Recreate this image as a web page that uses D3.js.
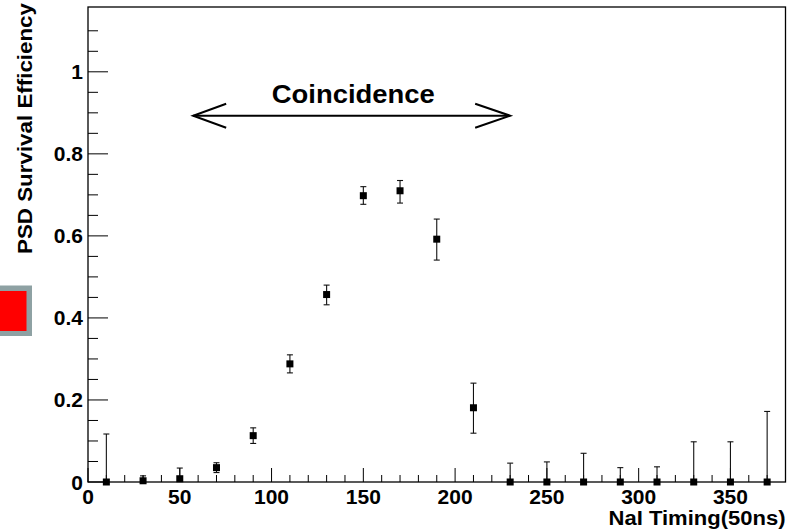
<!DOCTYPE html>
<html>
<head>
<meta charset="utf-8">
<script src="https://cdn.jsdelivr.net/npm/d3@7"></script>
<style>
  html, body { margin: 0; padding: 0; background: #fff; }
  svg { display: block; }
  text { font-family: "Liberation Sans", Arial, Helvetica, sans-serif; font-weight: bold; fill: #000; }
</style>
</head>
<body>
<svg id="chart" width="798" height="531"></svg>
<script>
// ---- data ----
const timing = [10, 30, 50, 70, 90, 110, 130, 150, 170, 190, 210, 230, 250, 270, 290, 310, 330, 350, 370];
const efficiency = [0.0, 0.003, 0.008, 0.035, 0.113, 0.288, 0.457, 0.698, 0.710, 0.592, 0.181, 0, 0, 0, 0, 0, 0, 0, 0];
const errUp = [0.117, 0.012, 0.026, 0.012, 0.019, 0.022, 0.023, 0.022, 0.025, 0.049, 0.060, 0.046, 0.049, 0.070, 0.035, 0.037, 0.098, 0.098, 0.172];
const errDown = [0.0, 0.003, 0.008, 0.012, 0.019, 0.022, 0.025, 0.021, 0.030, 0.051, 0.062, 0, 0, 0, 0, 0, 0, 0, 0];
const xTicks = [0, 50, 100, 150, 200, 250, 300, 350];
const yTicks = [0, 0.2, 0.4, 0.6, 0.8, 1];
const xDomain = [0, 380];
const yDomain = [0, 1.158];
const xTitle = "NaI Timing(50ns)";
const yTitle = "PSD Survival Efficiency";
const annotation = { text: "Coincidence", x0: 57.3, x1: 230, y: 0.893 };

// ---- layout ----
const W = 798, H = 531;
const m = { left: 88, right: 12.5, top: 7, bottom: 49 };
const svg = d3.select("#chart");

const x = d3.scaleLinear().domain(xDomain).range([m.left, W - m.right]);
const y = d3.scaleLinear().domain(yDomain).range([H - m.bottom, m.top]);

// red box at left
svg.append("rect").attr("x", -10).attr("y", 285.5).attr("width", 42).attr("height", 50.5).attr("fill", "#8ea1a3");
svg.append("rect").attr("x", -10).attr("y", 291).attr("width", 36.5).attr("height", 40).attr("fill", "#ff0000");

// frame
svg.append("rect")
  .attr("x", x(xDomain[0])).attr("y", y(yDomain[1]))
  .attr("width", x(xDomain[1]) - x(xDomain[0]))
  .attr("height", y(yDomain[0]) - y(yDomain[1]))
  .attr("fill", "none").attr("stroke", "#000").attr("stroke-width", 1.3);

// x axis ticks (inside, upward)
const xMinor = d3.range(0, 381, 10);
const gx = svg.append("g");
gx.selectAll("line").data(xMinor).join("line")
  .attr("x1", d => x(d)).attr("x2", d => x(d))
  .attr("y1", y(0)).attr("y2", d => y(0) - (d % 50 === 0 ? 14 : 7))
  .attr("stroke", "#000").attr("stroke-width", 1);
gx.selectAll("text").data(xTicks).join("text")
  .attr("x", d => x(d)).attr("y", y(0) + 22)
  .attr("text-anchor", "middle").attr("font-size", 21)
  .text(d => d);

// y axis ticks (inside, rightward)
const yMinor = d3.range(0, 23).map(i => i * 0.05).filter(v => v <= yDomain[1]);
const gy = svg.append("g");
gy.selectAll("line").data(yMinor).join("line")
  .attr("x1", x(0)).attr("x2", (d, i) => x(0) + (i % 4 === 0 ? 20 : 10))
  .attr("y1", d => y(d)).attr("y2", d => y(d))
  .attr("stroke", "#000").attr("stroke-width", 1);
gy.selectAll("text").data(yTicks).join("text")
  .attr("x", x(0) - 5).attr("y", d => y(d) + 7.5)
  .attr("text-anchor", "end").attr("font-size", 21)
  .text(d => d);

// axis titles
svg.append("text")
  .attr("x", x(xDomain[1])).attr("y", H - 6)
  .attr("text-anchor", "end").attr("font-size", 20)
  .attr("textLength", 177).attr("lengthAdjust", "spacingAndGlyphs")
  .text(xTitle);
svg.append("text")
  .attr("transform", `translate(32, ${m.top - 4}) rotate(-90)`)
  .attr("text-anchor", "end").attr("font-size", 21)
  .attr("textLength", 251).attr("lengthAdjust", "spacingAndGlyphs")
  .text(yTitle);

// error bars
const pts = timing.map((t, i) => ({ t, v: efficiency[i], up: errUp[i], dn: errDown[i] }));
const ge = svg.append("g").attr("stroke", "#111").attr("stroke-width", 1.1);
pts.forEach(p => {
  const xc = x(p.t);
  ge.append("line").attr("x1", xc).attr("x2", xc).attr("y1", y(p.v - p.dn)).attr("y2", y(p.v + p.up));
  ge.append("line").attr("x1", xc - 3).attr("x2", xc + 3).attr("y1", y(p.v + p.up)).attr("y2", y(p.v + p.up));
  if (p.dn > 0.01) ge.append("line").attr("x1", xc - 3).attr("x2", xc + 3).attr("y1", y(p.v - p.dn)).attr("y2", y(p.v - p.dn));
});

// markers
svg.append("g").selectAll("rect").data(pts).join("rect")
  .attr("x", d => x(d.t) - 3.5).attr("y", d => y(d.v) - 3.5)
  .attr("width", 7).attr("height", 7).attr("fill", "#000");

// annotation arrow
const ay = y(annotation.y), ax0 = x(annotation.x0), ax1 = x(annotation.x1);
const ga = svg.append("g").attr("stroke", "#000").attr("stroke-width", 2).attr("fill", "none");
ga.append("line").attr("x1", ax0).attr("x2", ax1).attr("y1", ay).attr("y2", ay);
ga.append("polyline").attr("points", `${ax0 + 33},${ay - 12} ${ax0},${ay} ${ax0 + 33},${ay + 12}`);
ga.append("polyline").attr("points", `${ax1 - 35},${ay - 12} ${ax1},${ay} ${ax1 - 35},${ay + 12}`);
svg.append("text")
  .attr("x", 353.3).attr("y", 103)
  .attr("text-anchor", "middle").attr("font-size", 25)
  .attr("textLength", 163).attr("lengthAdjust", "spacingAndGlyphs")
  .text(annotation.text);
</script>
</body>
</html>
